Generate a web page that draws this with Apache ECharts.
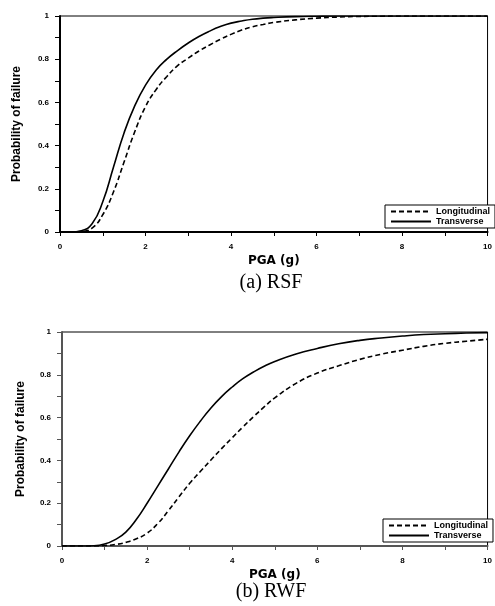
<!DOCTYPE html>
<html>
    <head>
        <meta charset="utf-8">
        <script src="https://cdn.jsdelivr.net/npm/echarts@6/dist/echarts.min.js"></script>
        <style>
            body { margin: 0; background: #fff; }
        </style>
    </head>
    <body>
        <div id="main" style="width: 495px;height:606px;"></div>
        <script type="text/javascript">
            // PGA (g)
            var xs = [0, 0.25, 0.5, 0.75, 1, 1.25, 1.5, 1.75, 2, 2.25, 2.5, 2.75, 3, 3.25, 3.5, 3.75, 4, 4.25, 4.5, 4.75, 5, 5.5, 6, 6.5, 7, 7.5, 8, 8.5, 9, 9.5, 10];
            // (a) RSF
            var rsfLong = [0, 0, 0.002, 0.018, 0.08, 0.185, 0.325, 0.465, 0.58, 0.66, 0.72, 0.77, 0.805, 0.838, 0.866, 0.892, 0.915, 0.935, 0.95, 0.961, 0.97, 0.982, 0.99, 0.995, 0.998, 0.999, 1, 1, 1, 1, 1];
            var rsfTran = [0, 0, 0.006, 0.038, 0.14, 0.30, 0.46, 0.585, 0.68, 0.75, 0.80, 0.84, 0.875, 0.905, 0.93, 0.951, 0.967, 0.977, 0.985, 0.99, 0.993, 0.997, 0.999, 1, 1, 1, 1, 1, 1, 1, 1];
            // (b) RWF
            var rwfLong = [0, 0, 0, 0, 0.002, 0.007, 0.017, 0.034, 0.06, 0.105, 0.165, 0.23, 0.293, 0.348, 0.402, 0.455, 0.506, 0.556, 0.604, 0.65, 0.692, 0.76, 0.808, 0.842, 0.872, 0.896, 0.915, 0.933, 0.947, 0.957, 0.966];
            var rwfTran = [0, 0, 0, 0.001, 0.009, 0.03, 0.065, 0.125, 0.20, 0.28, 0.36, 0.44, 0.515, 0.583, 0.645, 0.698, 0.743, 0.782, 0.813, 0.84, 0.862, 0.897, 0.923, 0.945, 0.961, 0.972, 0.981, 0.988, 0.992, 0.995, 0.997];
            var captions = ['(a) RSF', '(b) RWF'];
            var seriesNames = ['Longitudinal', 'Transverse'];

            function pairs(ys) {
                return xs.map(function (x, i) { return [x, ys[i]]; });
            }

            var tickFont = { fontFamily: 'Liberation Sans', fontWeight: 'bold', fontSize: 8, color: '#000' };

            function xAxisFor(idx, col) {
                return {
                    gridIndex: idx, type: 'value', min: 0, max: 10, interval: 2,
                    name: 'PGA (g)', nameLocation: 'middle', nameGap: 23,
                    nameTextStyle: { fontFamily: 'DejaVu Sans', fontWeight: 'bold', fontSize: 12, color: '#000' },
                    axisLine: { lineStyle: { color: col, width: 2 } },
                    axisTick: { length: 4, lineStyle: { color: col, width: 1 } },
                    minorTick: { show: true, splitNumber: 2, length: 4, lineStyle: { color: col, width: 1 } },
                    axisLabel: Object.assign({ margin: 11 }, tickFont),
                    splitLine: { show: false }
                };
            }
            function yAxisFor(idx, col, gap) {
                return {
                    gridIndex: idx, type: 'value', min: 0, max: 1, interval: 0.2,
                    name: 'Probability of failure', nameLocation: 'middle', nameGap: gap, nameRotate: 90,
                    nameTextStyle: { fontFamily: 'Liberation Sans', fontWeight: 'bold', fontSize: 12, color: '#000' },
                    axisLine: { lineStyle: { color: col, width: 2 } },
                    axisTick: { length: 5, lineStyle: { color: col, width: 1 } },
                    minorTick: { show: true, splitNumber: 2, length: 5, lineStyle: { color: col, width: 1 } },
                    axisLabel: Object.assign({ margin: 11 }, tickFont),
                    splitLine: { show: false }
                };
            }
            function lineSeries(name, idx, ys, dashed) {
                return {
                    name: name, type: 'line', xAxisIndex: idx, yAxisIndex: idx,
                    data: pairs(ys), symbol: 'none', smooth: 0.5,
                    lineStyle: { color: '#000', width: 1.6, type: dashed ? [5, 3] : 'solid' },
                    itemStyle: { color: '#000' }
                };
            }
            function legendFor(left, top) {
                return {
                    left: left, top: top, orient: 'vertical', data: seriesNames,
                    itemWidth: 40, itemHeight: 10, itemGap: 1, itemTextGap: 5,
                    padding: [2, 5, 2, 5], borderColor: '#000', borderWidth: 1, borderRadius: 0,
                    backgroundColor: '#fff', selectedMode: false,
                    itemStyle: { color: 'rgba(0,0,0,0)', borderWidth: 0, opacity: 0 },
                    textStyle: { fontFamily: 'Liberation Sans', fontWeight: 'bold', fontSize: 9, color: '#000' }
                };
            }

            var myChart = echarts.init(document.getElementById('main'), null, { renderer: 'canvas' });
            var option = {
                animation: false,
                backgroundColor: '#fff',
                title: [
                    { text: captions[0], left: 266, top: 268, textAlign: 'center',
                      textStyle: { fontFamily: 'Liberation Serif', fontWeight: 'normal', fontSize: 20, color: '#000' } },
                    { text: captions[1], left: 266, top: 577, textAlign: 'center',
                      textStyle: { fontFamily: 'Liberation Serif', fontWeight: 'normal', fontSize: 20, color: '#000' } }
                ],
                grid: [
                    { left: 60, top: 16, width: 437, height: 216, show: true, borderColor: '#000', borderWidth: 1 },
                    { left: 62, top: 332, width: 430, height: 214, show: true, borderColor: '#000', borderWidth: 1 }
                ],
                legend: [legendFor(385, 205), legendFor(383, 519)],
                xAxis: [xAxisFor(0, '#000'), xAxisFor(1, '#555')],
                yAxis: [yAxisFor(0, '#000', 37), yAxisFor(1, '#555', 35)],
                series: [
                    lineSeries(seriesNames[0], 0, rsfLong, true),
                    lineSeries(seriesNames[1], 0, rsfTran, false),
                    lineSeries(seriesNames[0], 1, rwfLong, true),
                    lineSeries(seriesNames[1], 1, rwfTran, false)
                ]
            };
            myChart.setOption(option);
        </script>
    </body>
</html>
